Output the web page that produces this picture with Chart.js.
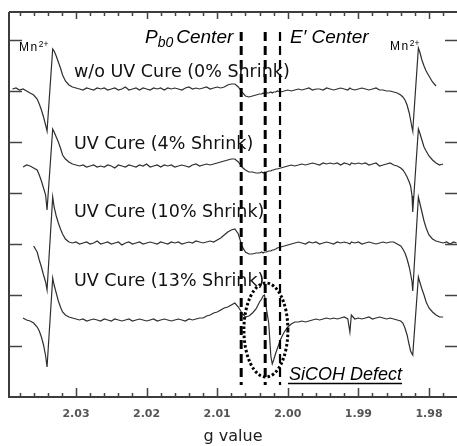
<!DOCTYPE html>
<html><head><meta charset="utf-8">
<script src="https://cdn.jsdelivr.net/npm/chart.js@4.4.1/dist/chart.umd.min.js"></script>
<style>html,body{margin:0;padding:0;background:#fff;}#wrap{width:457px;height:446px;}</style>
</head><body><div id="wrap"><canvas id="c" width="457" height="446"></canvas></div>
<script>
// g-value grid shared by all spectra
const gValues = [
 2.0390, 2.0385, 2.0380, 2.0375, 2.0370, 2.0365, 2.0360, 2.0355, 2.0352, 2.0349,
 2.0346, 2.0343, 2.0341, 2.0333, 2.0331, 2.0328, 2.0325, 2.0322, 2.0319, 2.0315,
 2.0310, 2.0305, 2.0300, 2.0295, 2.0290, 2.0285, 2.0280, 2.0275, 2.0270, 2.0265,
 2.0260, 2.0255, 2.0250, 2.0245, 2.0240, 2.0235, 2.0230, 2.0225, 2.0220, 2.0215,
 2.0210, 2.0205, 2.0200, 2.0195, 2.0190, 2.0185, 2.0180, 2.0175, 2.0170, 2.0165,
 2.0160, 2.0155, 2.0150, 2.0145, 2.0140, 2.0135, 2.0130, 2.0125, 2.0120, 2.0115,
 2.0110, 2.0105, 2.0100, 2.0095, 2.0090, 2.0085, 2.0080, 2.0075, 2.0070, 2.0065,
 2.0060, 2.0055, 2.0050, 2.0045, 2.0040, 2.0037, 2.0035, 2.0033, 2.0030, 2.0027,
 2.0024, 2.0022, 2.0020, 2.0017, 2.0015, 2.0010, 2.0005, 2.0000, 1.9995, 1.9990,
 1.9985, 1.9980, 1.9975, 1.9970, 1.9965, 1.9960, 1.9955, 1.9950, 1.9945, 1.9940,
 1.9935, 1.9930, 1.9925, 1.9920, 1.9915, 1.9912, 1.9910, 1.9905, 1.9900, 1.9895,
 1.9890, 1.9885, 1.9880, 1.9875, 1.9870, 1.9865, 1.9860, 1.9855, 1.9850, 1.9845,
 1.9840, 1.9837, 1.9834, 1.9831, 1.9828, 1.9826, 1.9824, 1.9823, 1.9815, 1.9813,
 1.9810, 1.9807, 1.9804, 1.9800, 1.9795, 1.9790, 1.9785, 1.9780, 1.9775, 1.9770,
 1.9765, 1.9761
];
// EPR signal (a.u.) relative to each spectrum's baseline
const shrink0 = [
 0, 1, -1, 0, -2, -4, -6, -10, -15, -21,
 -28, -36, -42, 40, 38, 33, 27, 21, 14, 8,
 4, 2, 1, 0, -1, 1, 0, -1, 1, 0,
 1, -1, 0, 1, -1, 0, 2, -1, 0, 1,
 -1, 1, 0, -1, 1, 0, 1, -1, 1, 0,
 1, 0, -1, 1, 2, 0, 1, 0, 1, 2,
 0, 1, 2, 1, 2, 4, 5, 5, 2, -3,
 -7, -8, -7, -6, -5, -5, -4, -5, -4, -4,
 -3, -4, -3, -3, -2, -3, -2, -1, -2, -1,
 0, -1, 0, 1, -1, 0, 0, -1, 1, 0,
 -1, 0, 1, 0, -1, 1, 0, -1, 0, 1,
 0, -1, 0, 1, -1, -1, -2, -2, -3, -4,
 -6, -8, -11, -16, -24, -31, -39, -42, 41, 37,
 29, 23, 18, 13, 7, 3, null, null, null, null,
 null, null
];
const shrink4 = [
 null, null, null, -1, 1, 0, -2, -4, -9, -15,
 -22, -29, -44, 37, 34, 29, 24, 18, 11, 7,
 4, 2, 1, 0, 1, -1, 0, 1, -1, 0,
 -1, 1, 0, -2, 1, 0, -1, 1, 0, -1,
 1, 0, 2, -1, 0, 1, -1, 1, 0, 1,
 -1, 0, 1, 0, -1, 1, 2, 0, 1, 2,
 1, 2, 3, 4, 5, 6, 7, 7, 4, -1,
 -4, -6, -6, -7, -7, -6, -7, -6, -6, -5,
 -5, -4, -4, -3, -3, -2, -1, 0, 1, 0,
 1, 2, 1, 2, 3, 2, 1, 3, 2, 3,
 2, 3, 1, 3, 2, 1, 3, 2, 3, 2,
 3, 1, 2, 3, 0, 1, 2, 3, 1, 0,
 -2, -4, -7, -11, -16, -20, -30, -46, 37, 33,
 26, 19, 15, 10, 6, 3, 1, 2, null, null,
 null, null
];
const shrink10 = [
 null, null, null, null, null, null, -3, -9, -17, -24,
 -32, -39, -47, 46, 36, 27, 20, 14, 9, 4,
 1, 0, 1, -1, 0, 1, -1, 0, 2, -1,
 0, 1, -1, 0, 1, -2, 0, 1, -1, 0,
 1, -1, 0, 1, 0, -1, 1, 0, -1, 1,
 0, 1, -1, 0, 1, 0, 2, 1, 0, 1,
 2, 1, 3, 5, 8, 11, 13, 14, 9, -3,
 -9, -11, -11, -10, -10, -9, -10, -9, -9, -8,
 -8, -7, -7, -6, -5, -4, -3, -2, -1, 0,
 1, 0, -1, 1, 0, 1, -1, 0, 1, 0,
 -1, 1, 0, 1, 0, -1, 1, 0, 1, -1,
 0, 1, 0, -1, 0, 1, 0, 1, 1, -1,
 -3, -6, -10, -16, -24, -31, -39, -48, 46, 40,
 31, 22, 15, 8, 4, 2, 1, 0, 1, -1,
 1, 0
];
const shrink13 = [
 null, null, null, 2, 0, -1, -3, -7, -11, -17,
 -25, -36, -47, 42, 35, 27, 19, 13, 8, 5,
 3, 2, 1, 0, 1, -1, 0, 1, 0, -1,
 1, 0, -1, 1, 0, -1, 0, 1, -1, 0,
 1, 0, -1, 0, 1, -1, 0, 1, 0, -1,
 0, 1, 0, -1, 1, 0, 1, 2, 2, 4,
 5, 7, 8, 10, 12, 13, 15, 17, 13, 7,
 3, 4, 7, 11, 18, 21, 24, 25, 10, -3,
 -36, -44, -40, -33, -29, -19, -12, -7, -4, -2,
 -2, -1, -2, -1, 0, 1, 0, 1, 2, 1,
 2, 1, 2, 3, 1, -12, 5, 1, 2, 1,
 2, 3, 1, 2, 3, 2, 1, 2, 1, 0,
 -1, -3, -8, -15, -25, -31, -34, -35, 43, 38,
 31, 25, 18, 12, 8, 5, 3, 3, null, null,
 null, null
];
const spectra = [shrink0, shrink4, shrink10, shrink13];
const offsets = [308, 231, 154, 77];
const seriesLabels = ['w/o UV Cure (0% Shrink)', 'UV Cure (4% Shrink)', 'UV Cure (10% Shrink)', 'UV Cure (13% Shrink)'];
const xTickValues = [2.03, 2.02, 2.01, 2.00, 1.99, 1.98];
const xTickLabels = ['2.03', '2.02', '2.01', '2.00', '1.99', '1.98'];
const markerG = [2.0066, 2.0032, 2.0011];
const defectCenter = {g: 2.0031, y: 67};
const yTickStep = 51;

const datasets = spectra.map((s, k) => ({
  label: seriesLabels[k],
  data: gValues.map((g, i) => ({x: g, y: s[i] === null ? null : s[i] + offsets[k]})),
  borderColor: '#2e2e2e', borderWidth: 1.2, pointRadius: 0, tension: 0, fill: false
}));

const annot = {
  id: 'annot',
  afterDatasetsDraw(chart) {
    const {ctx, chartArea: a, scales: {x, y}} = chart;
    ctx.save();
    // frame
    ctx.strokeStyle = '#3c3c3c'; ctx.lineWidth = 2;
    ctx.beginPath();
    ctx.moveTo(a.left, a.top); ctx.lineTo(a.right, a.top);
    ctx.moveTo(a.left, a.top); ctx.lineTo(a.left, a.bottom); ctx.lineTo(a.right, a.bottom);
    ctx.stroke();
    // x ticks (inside), minor every 0.002
    ctx.lineWidth = 1.5; ctx.strokeStyle = '#444';
    ctx.beginPath();
    for (let k = 985; k <= 1022; k++) {
      const v = k * 0.002;
      if (v < x.min || v > x.max) continue;
      const px = Math.round(x.getPixelForValue(v)) + 0.5;
      const major = k % 5 === 0;
      ctx.moveTo(px, a.bottom); ctx.lineTo(px, a.bottom - (major ? 9 : 4));
      ctx.moveTo(px, a.top); ctx.lineTo(px, a.top + (major ? 7 : 4));
    }
    // y ticks
    for (let v = yTickStep; v < y.max; v += yTickStep) {
      const py = Math.round(y.getPixelForValue(v)) + 0.5;
      ctx.moveTo(a.left, py); ctx.lineTo(a.left + 13, py);
      ctx.moveTo(a.right - 12, py); ctx.lineTo(a.right, py);
    }
    ctx.stroke();
    // dashed marker lines
    ctx.strokeStyle = '#000';
    ctx.setLineDash([9, 5]);
    const widths = [3, 3, 2.2];
    markerG.forEach((g, i) => {
      const px = x.getPixelForValue(g);
      ctx.lineWidth = widths[i];
      ctx.beginPath();
      ctx.moveTo(px, y.getPixelForValue(365));
      ctx.lineTo(px, y.getPixelForValue(12));
      ctx.stroke();
    });
    // dotted ellipse
    ctx.setLineDash([2.5, 2.2]);
    ctx.lineWidth = 3;
    ctx.beginPath();
    ctx.ellipse(x.getPixelForValue(defectCenter.g), y.getPixelForValue(defectCenter.y), 22, 47, 0, 0, Math.PI * 2);
    ctx.stroke();
    ctx.setLineDash([]);
    // series labels
    ctx.fillStyle = '#111';
    ctx.textBaseline = 'alphabetic';
    ctx.font = '17.5px "DejaVu Sans"';
    const lblY = [77, 149, 217, 286];
    seriesLabels.forEach((t, i) => ctx.fillText(t, 74, lblY[i]));
    // Pb0 Center
    ctx.fillStyle = '#000';
    let cx = 145;
    ctx.font = 'italic 19px "Liberation Sans"';
    ctx.fillText('P', cx, 43); cx += ctx.measureText('P').width;
    ctx.font = 'italic 14px "Liberation Sans"';
    ctx.fillText('b0', cx, 47); cx += ctx.measureText('b0').width + 3;
    ctx.font = 'italic 19px "Liberation Sans"';
    ctx.fillText('Center', cx, 43);
    // E' Center
    ctx.fillText('E\u2032 Center', 290, 43);
    // SiCOH Defect
    ctx.font = 'italic 18px "Liberation Sans"';
    ctx.fillText('SiCOH Defect', 289, 380);
    const w = ctx.measureText('SiCOH Defect').width;
    ctx.lineWidth = 1.5; ctx.strokeStyle = '#000';
    ctx.beginPath(); ctx.moveTo(288, 383.5); ctx.lineTo(289 + w, 383.5); ctx.stroke();
    // Mn2+ labels
    const mn = (x0, base) => {
      ctx.font = '12px "Liberation Sans"';
      try { ctx.letterSpacing = '1.5px'; } catch (e) {}
      ctx.fillText('Mn', x0, base);
      const mw = ctx.measureText('Mn').width;
      ctx.font = '8.5px "Liberation Sans"';
      try { ctx.letterSpacing = '0px'; } catch (e) {}
      ctx.fillText('2+', x0 + mw, base - 4);
    };
    mn(19, 51);
    mn(390, 50);
    ctx.restore();
  }
};

new Chart(document.getElementById('c'), {
  type: 'line',
  data: {datasets},
  options: {
    responsive: false, devicePixelRatio: 1, animation: false,
    layout: {padding: {left: 9, top: 12, right: 0, bottom: 0}},
    plugins: {legend: {display: false}, tooltip: {enabled: false}},
    scales: {
      x: {
        type: 'linear', reverse: true, min: 1.97603, max: 2.03949,
        afterBuildTicks: s => { s.ticks = xTickValues.map(v => ({value: v})); },
        afterFit: s => { s.height = 49; },
        ticks: {
          autoSkip: false, maxRotation: 0, padding: 11, color: '#555',
          font: {family: 'DejaVu Sans', weight: 'bold', size: 11},
          callback: v => { const i = xTickValues.findIndex(t => Math.abs(t - v) < 1e-6); return i >= 0 ? xTickLabels[i] : ''; }
        },
        grid: {display: false, drawTicks: false},
        border: {display: false},
        title: {display: true, text: 'g value', color: '#222', font: {family: 'DejaVu Sans', size: 16}, padding: {top: 0, bottom: 0}}
      },
      y: {type: 'linear', display: false, min: 0, max: 385}
    }
  },
  plugins: [annot]
});
</script>
</body></html>
